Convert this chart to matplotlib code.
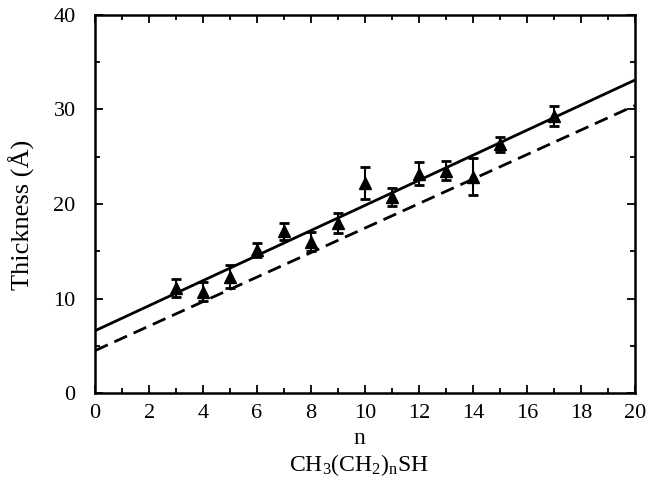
# thickness of CH3(CH2)nSH layers vs chain length n

import matplotlib
matplotlib.use("Agg")
import matplotlib.pyplot as plt
from matplotlib.ticker import MultipleLocator

plt.rcParams['font.family'] = ['Liberation Serif', 'DejaVu Serif']
plt.rcParams['mathtext.fontset'] = 'custom'
plt.rcParams['mathtext.rm'] = 'Liberation Serif'
plt.rcParams['mathtext.it'] = 'Liberation Serif'

# measured points (n, thickness, error)
n_vals = [3, 4, 5, 6, 7, 8, 9, 10, 11, 12, 13, 14, 15, 17]
thick = [11.1, 10.7, 12.3, 15.1, 17.1, 16.0, 18.0, 22.2, 20.7, 23.2, 23.5, 22.9, 26.3, 29.3]
err = [0.95, 1.0, 1.2, 0.75, 0.9, 1.0, 1.05, 1.7, 0.95, 1.2, 1.0, 2.0, 0.8, 1.1]

# fit lines (end points at n=0 and n=20)
fit_n = [0, 20]
solid_fit = [6.6, 33.1]
dashed_fit = [4.5, 30.4]

fig = plt.figure(figsize=(6.47, 4.80), dpi=100)
ax = fig.add_axes([0.147, 0.181, 0.834, 0.788])

ax.plot(fit_n, solid_fit, color='black', lw=2.0, solid_capstyle='butt')
ax.plot(fit_n, dashed_fit, color='black', lw=2.0, dashes=(5, 2.6))
ax.errorbar(n_vals, thick, yerr=err, fmt='^', color='black', ms=9,
            elinewidth=1.5, capsize=3.5, capthick=2.0, zorder=3)

ax.set_xlim(0, 20)
ax.set_ylim(0, 40)
ax.xaxis.set_major_locator(MultipleLocator(2))
ax.xaxis.set_minor_locator(MultipleLocator(1))
ax.yaxis.set_major_locator(MultipleLocator(10))
ax.yaxis.set_minor_locator(MultipleLocator(5))
ax.tick_params(which='both', direction='in', top=True, right=True, width=1.3)
ax.tick_params(which='major', length=6, labelsize=16)
ax.tick_params(axis='x', which='major', pad=8)
ax.tick_params(axis='y', which='major', pad=14)
ax.tick_params(which='minor', length=3.5)
for s in ax.spines.values():
    s.set_linewidth(1.8)

ax.set_ylabel('Thickness (Å)', fontsize=19)
ax.yaxis.set_label_coords(-0.112, 0.47)
fig.text(0.555, 0.086, 'n', fontsize=17, ha='center', va='center')
fig.text(0.555, 0.032, r'CH$_3$(CH$_2$)$_n$SH', fontsize=17, ha='center', va='center')

fig.savefig('out.png', dpi=100)
